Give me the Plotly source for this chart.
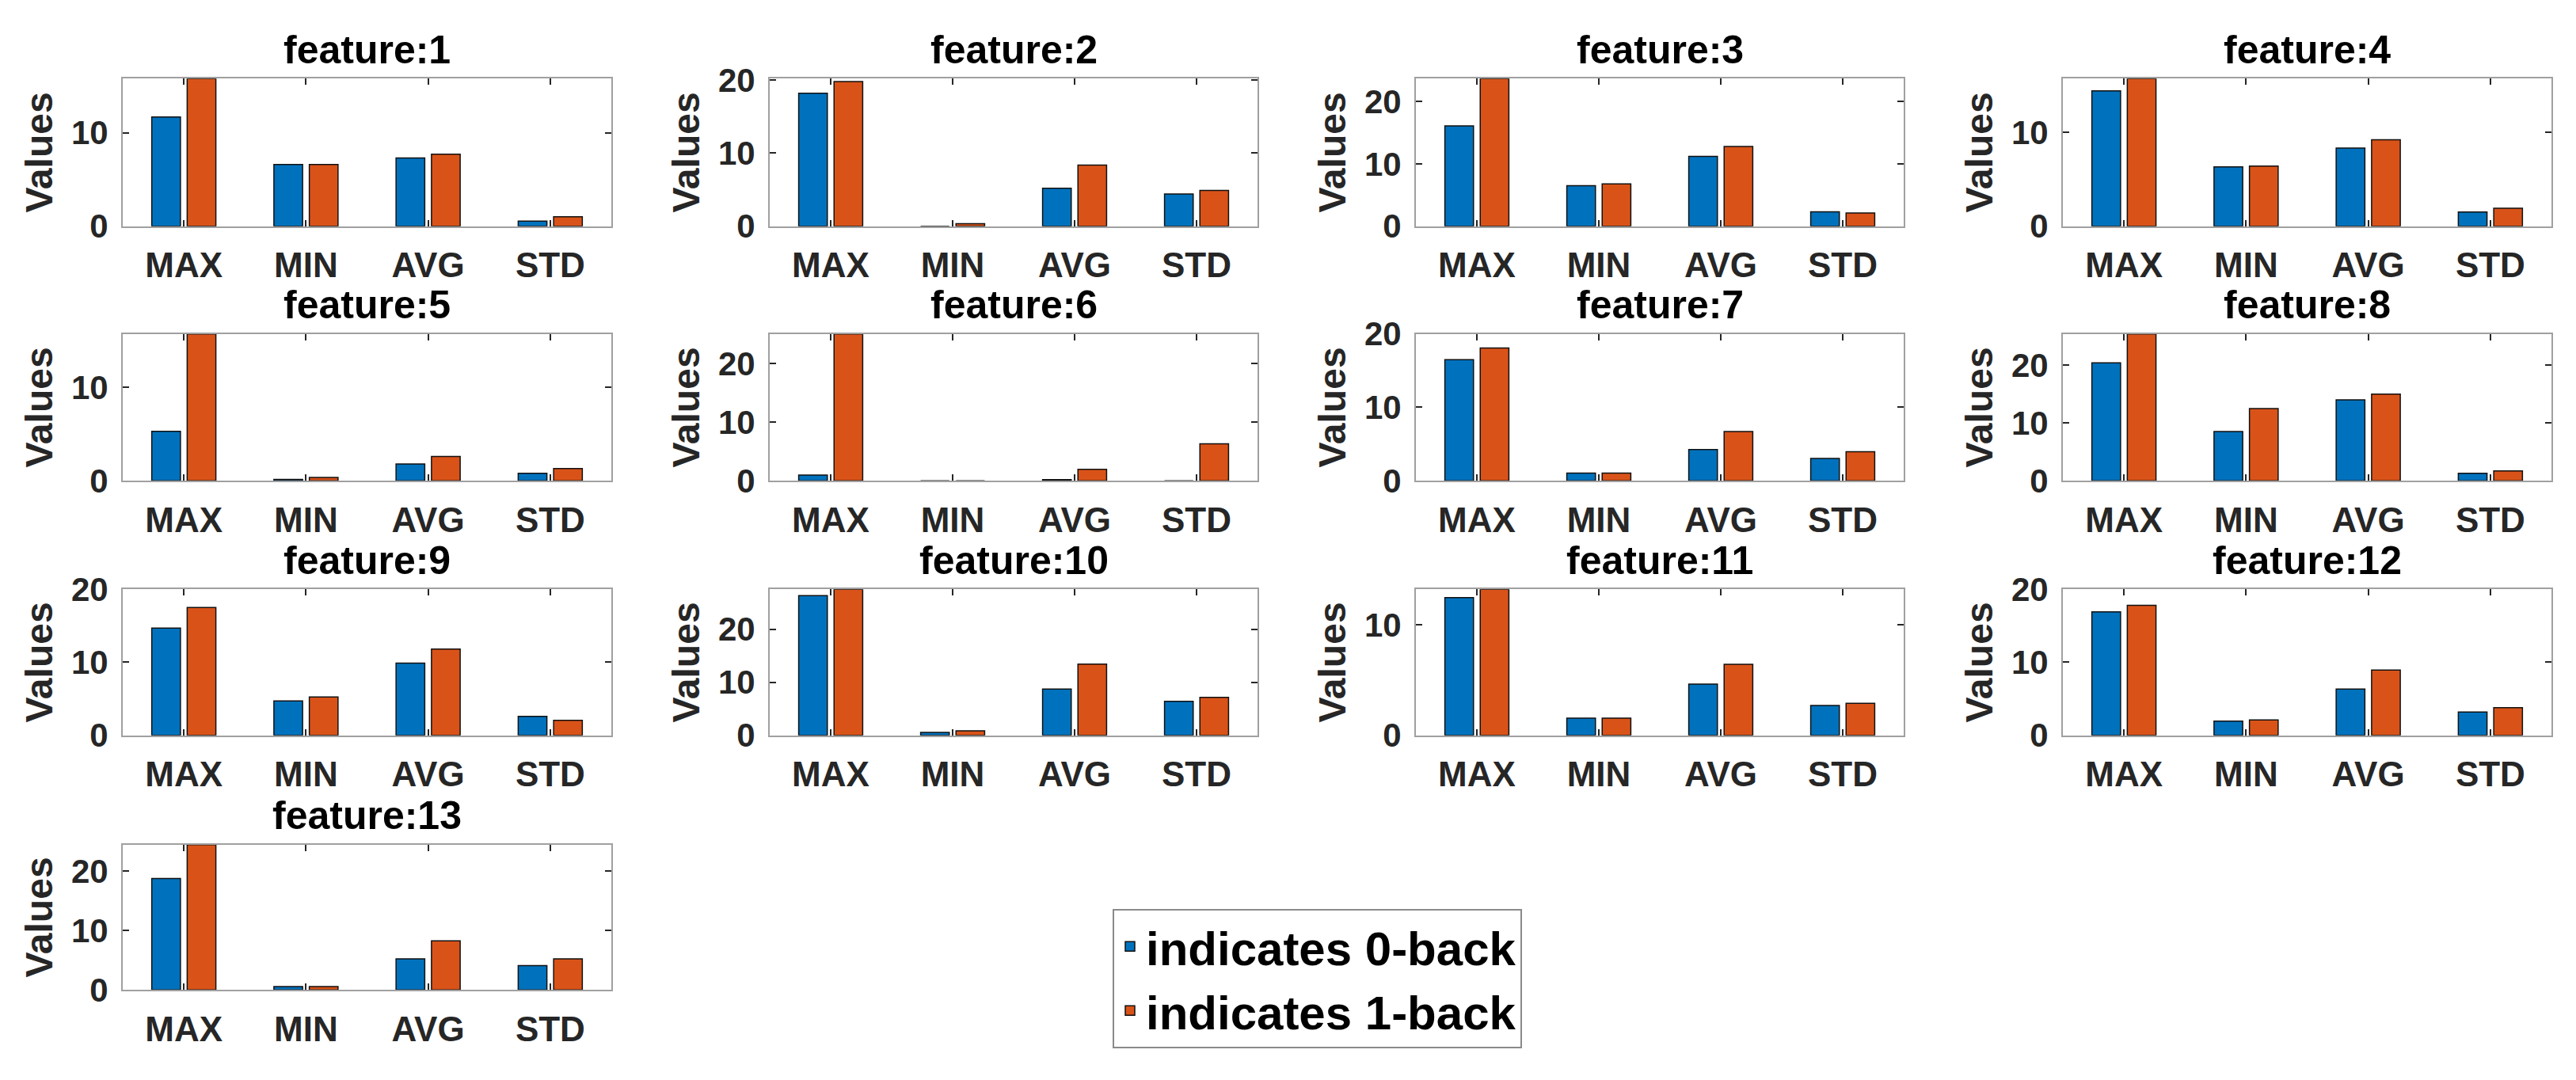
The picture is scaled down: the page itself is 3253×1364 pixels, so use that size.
import plotly.graph_objects as go

# ---------------- data ----------------
categories = ["MAX", "MIN", "AVG", "STD"]
feature_titles = [f"feature:{i}" for i in range(1, 14)]

back0_values = [
    [11.7, 6.6, 7.3, 0.55],
    [18.2, 0.0, 5.2, 4.4],
    [16.1, 6.5, 11.2, 2.3],
    [14.4, 6.3, 8.3, 1.5],
    [5.3, 0.15, 1.8, 0.8],
    [0.96, 0.0, 0.2, 0.0],
    [16.5, 1.05, 4.25, 3.05],
    [20.4, 8.5, 14.0, 1.3],
    [14.7, 4.7, 9.9, 2.6],
    [26.3, 0.55, 8.7, 6.4],
    [12.5, 1.55, 4.65, 2.7],
    [16.9, 1.95, 6.35, 3.2],
    [18.7, 0.55, 5.2, 4.1],
]
back1_values = [
    [15.8, 6.6, 7.7, 1.0],
    [19.8, 0.35, 8.35, 4.9],
    [23.7, 6.8, 12.8, 2.1],
    [15.7, 6.4, 9.2, 1.9],
    [15.75, 0.35, 2.6, 1.3],
    [25.0, 0.0, 1.95, 6.3],
    [18.1, 1.05, 6.7, 3.95],
    [25.4, 12.5, 15.0, 1.7],
    [17.5, 5.25, 11.8, 2.05],
    [27.5, 0.85, 13.4, 7.15],
    [13.25, 1.55, 6.45, 2.9],
    [17.8, 2.1, 8.95, 3.8],
    [24.4, 0.55, 8.25, 5.2],
]
y_upper = [15.8, 20.2, 23.7, 15.7, 15.75, 25.0, 20.0, 25.4, 20.0, 27.5, 13.25, 20.0, 24.4]
series_names = ["indicates 0-back", "indicates 1-back"]

# ---------------- layout constants ----------------
W, H = 3253, 1364
col_px = [(155, 772), (972, 1588), (1788, 2404), (2605, 3222)]
row_px = [(79, 272), (413, 605), (747, 938), (1081, 1271)]
BLUE, ORANGE = "#0072BD", "#D95319"
FONT = "Liberation Sans, Arial, sans-serif"
AX_COLOR = "#a0a0a0"
TXT = "#262626"

fig = go.Figure()
layout_axes = {}
annotations = []

for i in range(13):
    r, c = divmod(i, 4)
    x0, x1 = col_px[c]
    y0, y1 = row_px[r]
    xd = [x0 / W, x1 / W]
    yd = [1 - y1 / H, 1 - y0 / H]
    n = "" if i == 0 else str(i + 1)
    xa, ya = "x" + n, "y" + n

    fig.add_trace(go.Bar(
        x=categories, y=back0_values[i], name=series_names[0],
        marker=dict(color=BLUE, line=dict(color="#111111", width=1.5)),
        xaxis=xa, yaxis=ya, showlegend=(i == 0), legendgroup="b0",
    ))
    fig.add_trace(go.Bar(
        x=categories, y=back1_values[i], name=series_names[1],
        marker=dict(color=ORANGE, line=dict(color="#111111", width=1.5)),
        xaxis=xa, yaxis=ya, showlegend=(i == 0), legendgroup="b1",
    ))

    layout_axes["xaxis" + n] = dict(
        domain=xd, anchor=ya, type="category", range=[-0.5, 3.5],
        showline=True, linecolor=AX_COLOR, linewidth=2, mirror="ticks",
        ticks="inside", ticklen=8, tickwidth=2, tickcolor=TXT,
        tickfont=dict(family=FONT, size=44, color=TXT, weight="bold"),
        ticklabelstandoff=10, showgrid=False, zeroline=False, fixedrange=True,
    )
    layout_axes["yaxis" + n] = dict(
        domain=yd, anchor=xa, range=[0, y_upper[i]], dtick=10, tick0=0,
        showline=True, linecolor=AX_COLOR, linewidth=2, mirror="ticks",
        ticks="inside", ticklen=8, tickwidth=2, tickcolor=TXT,
        tickfont=dict(family=FONT, size=42, color=TXT, weight="bold"),
        ticklabelstandoff=8, showgrid=False, zeroline=False, fixedrange=True,
        title=dict(text="Values", standoff=8,
                   font=dict(family=FONT, size=48, color=TXT, weight="bold")),
    )
    annotations.append(dict(
        text=feature_titles[i], xref="paper", yref="paper",
        x=(x0 + x1) / 2 / W, y=1 - (y0 - 38) / H,
        xanchor="center", yanchor="middle", showarrow=False,
        font=dict(family=FONT, size=50, color="#000000", weight="bold"),
    ))

fig.update_layout(
    width=W, height=H, margin=dict(l=0, r=0, t=0, b=0),
    paper_bgcolor="white", plot_bgcolor="white",
    barmode="group", bargap=0.42, bargroupgap=0.19,
    annotations=annotations,
    legend=dict(
        x=1405 / W, y=1 - 1165 / H, xanchor="left", yanchor="top",
        bordercolor="#8a8a8a", borderwidth=2, bgcolor="white",
        font=dict(family=FONT, size=60, color="#000000", weight="bold"),
        tracegroupgap=0,
    ),
    **layout_axes,
)

fig.write_html("out.html", config={"displayModeBar": False},
               post_script="document.body.style.margin='0';")
